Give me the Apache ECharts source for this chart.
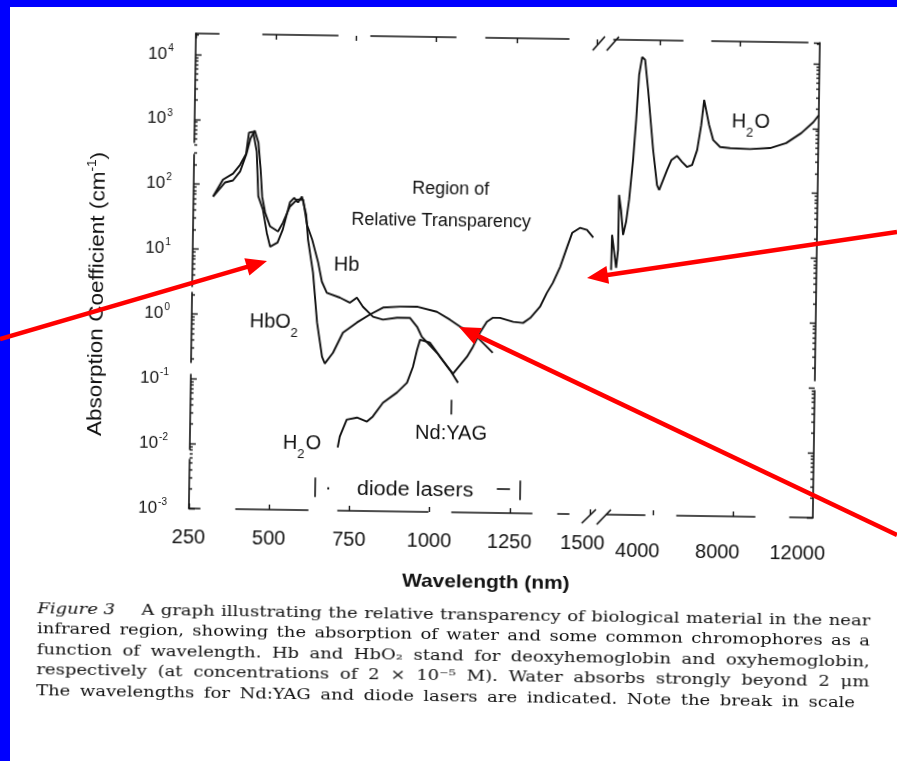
<!DOCTYPE html>
<html>
<head>
<meta charset="utf-8">
<script src="https://cdn.jsdelivr.net/npm/echarts@6/dist/echarts.min.js"></script>
<style>
  html, body { margin: 0; padding: 0; width: 897px; height: 761px; overflow: hidden; background: #0000ff; }
  #paper { position: absolute; left: 10px; top: 7px; width: 887px; height: 754px; background: #ffffff; }
  #figure { position: absolute; left: 0; top: 0; width: 897px; height: 761px;
            transform: rotate(0.85deg); transform-origin: 500px 300px; }
  #pointers { position: absolute; left: 0; top: 0; width: 897px; height: 761px; }
</style>
</head>
<body>
<div id="paper"></div>
<div id="figure"></div>
<div id="pointers"></div>
<script>
// ---- spectra: [wavelength (nm), absorption coefficient (cm^-1)] ----
const hbo2Points = [[311,65],[341,119],[372,148],[394,204],[412,300],[420,640],[433,660],[445,330],[452,67],[467,42],[480,18.5],[491,11.3],[514,13.1],[530,21],[551,55],[564,65],[576,55],[588,68],[602,36],[609,14.8],[626,4.6],[641,0.78],[658,0.234],[667,0.184],[692,0.27],[722,0.555],[765,0.8],[805,1.07],[846,1.38],[899,1.44],[952,1.45],[1014,1.22],[1055,0.93],[1087,0.73],[1140,0.515],[1190,0.294]];
const hbPoints = [[311,65],[348,108],[372,116],[394,160],[413,300],[425,520],[438,690],[450,450],[458,174],[464,66.5],[474,37.8],[490,23.2],[515,19.5],[530,26.7],[551,47.3],[573,60.8],[592,61],[605,25.2],[622,14.8],[641,6.8],[654,3.36],[670,2.26],[711,1.92],[742,1.61],[764,1.94],[783,1.41],[815,0.99],[846,0.9],[890,0.97],[930,0.975],[953,0.71],[968,0.5],[1016,0.285],[1057,0.157],[1083,0.0996]];
const waterNearPoints = [[711,0.0094],[717,0.0139],[738,0.0254],[770,0.0274],[801,0.0239],[819,0.0287],[850,0.047],[893,0.068],[924,0.097],[942,0.172],[954,0.315],[963,0.45],[994,0.406],[1026,0.249],[1057,0.157],[1067,0.137],[1110,0.252],[1128,0.36],[1149,0.594],[1170,0.88],[1189,1.02],[1211,1.02],[1252,0.89],[1283,0.86],[1305,1.03],[1335,1.54],[1356,2.54],[1374,3.62],[1396,6.4],[1417,13.1],[1432,21.6],[1456,25.9],[1478,24.2],[1498,18.5]];
const waterFarPoints = [[1730,5.9],[1755,20.6],[1855,20.6],[1980,6.4],[2065,12.1],[2075,85],[2185,50],[2305,20.6],[2445,32.8],[2580,72],[2750,297],[2875,1230],[2990,6070],[3130,11500],[3280,10400],[3450,3590],[3570,1480],[3745,427],[3965,123],[4075,104],[4265,148],[4455,211],[4670,303],[4950,350],[5205,283],[5455,238],[5705,256],[5945,437],[6130,1060],[6260,2590],[6365,1815],[6525,1067],[6740,628],[7090,492],[7590,476],[8590,465],[9590,487],[10390,585],[11140,841],[11735,1250],[12000,1600]];

// ---- axes ----
const nearRange = [250, 1500];
const nearStep = 250;
const farRange = [1700, 12000];
const farTickValues = [4000, 8000, 12000];
const absorptionRange = [1e-3, 21000];
const decadeExponents = [-3, -2, -1, 0, 1, 2, 3, 4];

// ---- laser markers ----
const ndYagWavelength = 1064;
const ndYagSpan = [0.054, 0.032];
const diodeEnds = [641, 1280];
const diodeSpan = [0.0032, 0.0016];
const diodeDash = [[1209, 1250], 0.00237];

const INK = '#121212';
const SANS = '"Liberation Sans", Arial, sans-serif';
const SERIF = '"DejaVu Serif", serif';

const measureCtx = document.createElement('canvas').getContext('2d');
function textWidth(str, size, family, style, weight) {
  measureCtx.font = (style || 'normal') + ' ' + (weight || 'normal') + ' ' + size + 'px ' + family;
  return measureCtx.measureText(str).width;
}

// minor log ticks 2..9 within each decade
const minorTickValues = [];
decadeExponents.forEach(e => {
  for (let m = 2; m <= 9; m++) {
    const v = +(m * Math.pow(10, e)).toPrecision(3);
    if (v < absorptionRange[1]) minorTickValues.push(v);
  }
});

function powerLabel(v) {
  const e = Math.round(Math.log10(v));
  return '{b|10}{s|' + (e < 0 ? '-' : '') + Math.abs(e) + '}';
}

const gridNear = { left: 192, top: 38, width: 401, height: 475 };
const gridFar = { left: 610, top: 38, width: 206, height: 475 };

const frameLine = (dash) => ({ show: true, onZero: false, lineStyle: { color: INK, width: 1.6, type: dash } });
const innerTicks = (len, extra) => Object.assign({ show: true, inside: true, length: len, lineStyle: { color: INK, width: 1.4 } }, extra || {});

function curve(name, data, xi, yi, extra) {
  return Object.assign({
    name, type: 'line', data, xAxisIndex: xi, yAxisIndex: yi,
    showSymbol: false, symbol: 'none', silent: true, clip: true,
    lineStyle: { color: INK, width: 1.9 }, z: 3
  }, extra || {});
}

// chemistry labels with subscripts
function chemLabel(parts, left, cy) {
  const els = [];
  let x = left;
  parts.forEach(p => {
    const size = p.sub ? 13 : 20;
    els.push({ type: 'text', x: x, y: cy + (p.sub ? 11 : 0), z: 10,
      style: { text: p.t, fontSize: size, fontFamily: SANS, fill: INK, align: 'left', verticalAlign: 'middle' } });
    x += textWidth(p.t, size, SANS) + (p.sub ? 1 : 0);
  });
  return els;
}

function plainText(text, x, y, size, opts, sx) {
  return { type: 'text', x, y, z: 10, scaleX: sx || 1,
    style: Object.assign({ text, fontSize: size, fontFamily: SANS, fill: INK, align: 'center', verticalAlign: 'middle' }, opts || {}) };
}

// caption, set justified word by word
const captionHead = 'Figure 3';
const captionLines = [
  'A graph illustrating the relative transparency of biological material in the near',
  'infrared region, showing the absorption of water and some common chromophores as a',
  'function of wavelength. Hb and HbO₂ stand for deoxyhemoglobin and oxyhemoglobin,',
  'respectively (at concentrations of 2 × 10⁻⁵ M). Water absorbs strongly beyond 2 μm',
  'The wavelengths for Nd:YAG and diode lasers are indicated. Note the break in scale'
];
const captionSize = 14.5;
const captionStretch = 1.24;
function captionGraphics() {
  const els = [];
  const spans = [[146, 875], [42, 875], [42, 875], [42, 875], [42, 861]];
  const top = 616, lead = 20.5;
  els.push({ type: 'text', x: 42, y: top, z: 10, scaleX: captionStretch,
    style: { text: captionHead, fontSize: captionSize, fontFamily: SERIF, fontStyle: 'italic', fill: INK, align: 'left', verticalAlign: 'middle' } });
  captionLines.forEach((line, i) => {
    const words = line.split(' ');
    const widths = words.map(w => textWidth(w, captionSize, SERIF) * captionStretch);
    const total = widths.reduce((a, b) => a + b, 0);
    const [x0, x1] = spans[i];
    const gap = (x1 - x0 - total) / (words.length - 1);
    let x = x0;
    words.forEach((w, k) => {
      els.push({ type: 'text', x: x, y: top + lead * i, z: 10, scaleX: captionStretch,
        style: { text: w, fontSize: captionSize, fontFamily: SERIF, fill: INK, align: 'left', verticalAlign: 'middle' } });
      x += widths[k] + gap;
    });
  });
  return els;
}

function slash(x1, y1, x2, y2) {
  return { type: 'line', z: 10, shape: { x1, y1, x2, y2 }, style: { stroke: INK, lineWidth: 1.6 } };
}

// vertical axis title, reading upwards
const absorptionTitle = {
  type: 'text', x: 97, y: 300, rotation: Math.PI / 2, scaleX: 1.13, z: 10,
  style: {
    text: 'Absorption Coefficient (cm{s|-1})',
    fontSize: 20, fontFamily: SANS, fill: INK, align: 'center', verticalAlign: 'middle', lineHeight: 24,
    rich: { s: { fontSize: 12, fontFamily: SANS, fill: INK, verticalAlign: 'top', lineHeight: 12 } }
  }
};

const annotations = [].concat(
  [
    plainText('Region of', 449, 190, 18),
    plainText('Relative Transparency', 440, 222, 18),
    plainText('Hb', 346, 267, 20),
    plainText('Nd:YAG', 453, 434, 20),
    plainText('diode lasers', 418, 491, 20, null, 1.08),
    plainText('·', 331, 490, 20),
    plainText('Wavelength (nm)', 490, 583, 19, { fontWeight: 'bold' }, 1.1),
    absorptionTitle,
    slash(589, 49, 601, 35), slash(603, 49, 615, 35),
    slash(585, 522, 599, 508), slash(600, 523, 614, 508)
  ],
  chemLabel([{ t: 'Hb' }, { t: 'O' }, { t: '2', sub: true }], 250, 325),
  chemLabel([{ t: 'H' }, { t: '2', sub: true }, { t: 'O' }], 285, 446),
  chemLabel([{ t: 'H' }, { t: '2', sub: true }, { t: 'O' }], 729, 118),
  captionGraphics()
);

const labelFont = { fontSize: 20, fontFamily: SANS, color: INK };

const figure = echarts.init(document.getElementById('figure'), null, { renderer: 'canvas' });
figure.setOption({
  animation: false,
  backgroundColor: 'transparent',
  grid: [gridNear, gridFar, gridNear, gridFar],
  xAxis: [
    { gridIndex: 0, type: 'value', position: 'bottom', min: nearRange[0], max: nearRange[1], interval: nearStep,
      axisLine: frameLine([11, 36, 72, 30, 90, 24, 80, 26, 11, 21]), axisTick: innerTicks(5),
      axisLabel: { show: true, margin: 19, showMinLabel: true, showMaxLabel: true,
        formatter: v => (v === 1500 ? '{p|' + v + '}' : '{n|' + v + '}'),
        rich: { n: labelFont, p: Object.assign({ padding: [0, 14, 0, 0] }, labelFont) } },
      splitLine: { show: false } },
    { gridIndex: 0, type: 'value', position: 'top', min: nearRange[0], max: nearRange[1], interval: nearStep,
      axisLine: frameLine([23, 44, 75, 33, 85, 30, 83, 28]), axisTick: innerTicks(5),
      axisLabel: { show: false }, splitLine: { show: false } },
    { gridIndex: 1, type: 'value', position: 'bottom', min: farRange[0], max: farRange[1],
      axisLine: frameLine([38, 32, 78, 35, 23, 0]), axisTick: innerTicks(5, { customValues: farTickValues.slice(0, 2) }),
      axisLabel: { show: true, margin: 26, customValues: farTickValues, showMinLabel: true, showMaxLabel: true,
        formatter: v => '{r|' + v + '}',
        rich: { r: Object.assign({ padding: [0, 30, 0, 0] }, labelFont) } },
      splitLine: { show: false } },
    { gridIndex: 1, type: 'value', position: 'top', min: farRange[0], max: farRange[1],
      axisLine: frameLine([69, 29, 96, 12]), axisTick: innerTicks(5, { customValues: farTickValues.slice(0, 2) }),
      axisLabel: { show: false }, splitLine: { show: false } },
    { gridIndex: 2, type: 'value', show: false, min: nearRange[0], max: nearRange[1] },
    { gridIndex: 3, type: 'value', show: false, min: farRange[0], max: farRange[1] }
  ],
  yAxis: [
    { gridIndex: 0, type: 'log', logBase: 10, position: 'left', min: absorptionRange[0], max: absorptionRange[1],
      axisLine: frameLine([49, 10, 75, 12, 70, 6, 132, 12, 109, 0]), axisTick: innerTicks(6),
      axisLabel: { show: true, margin: 22, showMaxLabel: false, showMinLabel: true, formatter: powerLabel,
        rich: { b: { fontSize: 17, fontFamily: SANS, color: INK, lineHeight: 22 },
                s: { fontSize: 10, fontFamily: SANS, color: INK, verticalAlign: 'top', lineHeight: 12, padding: [0, 0, 0, 1] } } },
      splitLine: { show: false } },
    { gridIndex: 1, type: 'log', logBase: 10, position: 'right', min: absorptionRange[0], max: absorptionRange[1],
      axisLine: frameLine([127, 10, 338, 0]), axisTick: innerTicks(6),
      axisLabel: { show: false }, splitLine: { show: false } },
    { gridIndex: 2, type: 'log', logBase: 10, position: 'left', min: absorptionRange[0], max: absorptionRange[1],
      axisLine: { show: false }, axisTick: innerTicks(3, { customValues: minorTickValues }),
      axisLabel: { show: false }, splitLine: { show: false } },
    { gridIndex: 3, type: 'log', logBase: 10, position: 'right', min: absorptionRange[0], max: absorptionRange[1],
      axisLine: { show: false }, axisTick: innerTicks(3, { customValues: minorTickValues }),
      axisLabel: { show: false }, splitLine: { show: false } }
  ],
  series: [
    curve('HbO2', hbo2Points, 0, 0),
    curve('Hb', hbPoints, 0, 0),
    curve('H2O', waterNearPoints, 0, 0, {
      markLine: {
        silent: true, symbol: ['none', 'none'], label: { show: false },
        lineStyle: { color: INK, width: 1.6, type: 'solid' },
        data: [
          [{ coord: [ndYagWavelength, ndYagSpan[0]] }, { coord: [ndYagWavelength, ndYagSpan[1]] }],
          [{ coord: [diodeEnds[0], diodeSpan[0]] }, { coord: [diodeEnds[0], diodeSpan[1]] }],
          [{ coord: [diodeEnds[1], diodeSpan[0]] }, { coord: [diodeEnds[1], diodeSpan[1]] }],
          [{ coord: [diodeDash[0][0], diodeDash[1]] }, { coord: [diodeDash[0][1], diodeDash[1]] }]
        ]
      }
    }),
    curve('H2O far', waterFarPoints, 2, 1)
  ],
  graphic: annotations
});

// red pointers laid over the figure
const pointerPaths = [
  [[0, 339], [267, 261]],
  [[897, 232], [587, 278]],
  [[897, 535], [459, 327]]
];
const pointerElements = [];
pointerPaths.forEach(([from, to]) => {
  const dx = to[0] - from[0], dy = to[1] - from[1];
  const len = Math.hypot(dx, dy);
  const ux = dx / len, uy = dy / len;
  const nx = -uy, ny = ux;
  const headLen = 21, headHalf = 9;
  const bx = to[0] - ux * headLen, by = to[1] - uy * headLen;
  pointerElements.push({ type: 'line', shape: { x1: from[0], y1: from[1], x2: bx + ux * 2, y2: by + uy * 2 },
    style: { stroke: '#ff0000', lineWidth: 4.5 } });
  pointerElements.push({ type: 'polygon', shape: { points: [to, [bx + nx * headHalf, by + ny * headHalf], [bx - nx * headHalf, by - ny * headHalf]] },
    style: { fill: '#ff0000' } });
});
const pointers = echarts.init(document.getElementById('pointers'), null, { renderer: 'canvas' });
pointers.setOption({ animation: false, backgroundColor: 'transparent', graphic: pointerElements });
</script>
</body>
</html>
